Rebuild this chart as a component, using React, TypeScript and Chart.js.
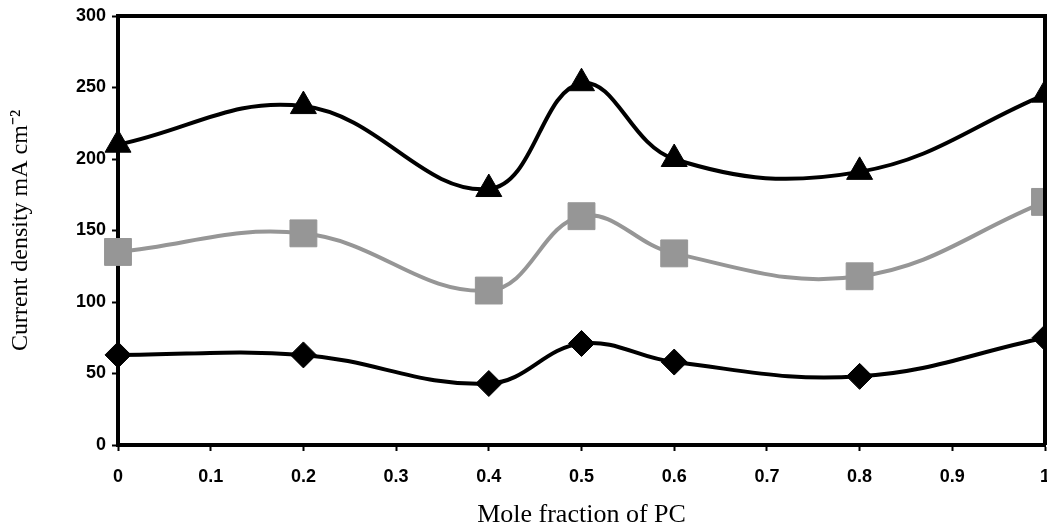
import React, { useEffect, useRef } from "react";
import { Chart, registerables } from "chart.js";

Chart.register(...registerables);

const moleFractions = [0, 0.2, 0.4, 0.5, 0.6, 0.8, 1.0];
const triangleSeries = [210, 237, 179, 253, 200, 191, 245];
const squareSeries = [135, 148, 108, 160, 134, 118, 170];
const diamondSeries = [63, 63, 43, 71, 58, 48, 75];
const xTitle = "Mole fraction of PC";
const yTitle = "Current density mA cm\u207B\u00B2";

const toPoints = (ys: number[]) => moleFractions.map((x, i) => ({ x, y: ys[i] }));

const framePlugin = {
  id: "frame",
  afterDatasetsDraw(chart: any) {
    const { ctx, chartArea } = chart;
    ctx.save();
    ctx.strokeStyle = "#000";
    ctx.lineWidth = 4;
    ctx.beginPath();
    ctx.moveTo(chartArea.left, chartArea.top);
    ctx.lineTo(chartArea.right, chartArea.top);
    ctx.lineTo(chartArea.right, chartArea.bottom);
    ctx.stroke();
    ctx.restore();
  },
};

export default function App() {
  const canvasRef = useRef<HTMLCanvasElement | null>(null);

  useEffect(() => {
    if (!canvasRef.current) return;
    const tickFont = { family: "'Liberation Sans', Arial, sans-serif", size: 18, weight: "bold" as const };
    const xTitleFont = { family: "'Liberation Serif', 'Times New Roman', serif", size: 26 };
    const yTitleFont = { family: "'Liberation Serif', 'Times New Roman', serif", size: 24 };
    const chart = new Chart(canvasRef.current, {
      type: "line",
      data: {
        datasets: [
          {
            data: toPoints(triangleSeries),
            borderColor: "#000",
            backgroundColor: "#000",
            borderWidth: 4,
            pointStyle: "triangle",
            pointRadius: 15,
            pointBorderWidth: 1,
            tension: 0.4,
            clip: false,
          },
          {
            data: toPoints(squareSeries),
            borderColor: "#969696",
            backgroundColor: "#969696",
            borderWidth: 4,
            pointStyle: "rect",
            pointRadius: 19,
            pointBorderWidth: 1,
            tension: 0.4,
            clip: false,
          },
          {
            data: toPoints(diamondSeries),
            borderColor: "#000",
            backgroundColor: "#000",
            borderWidth: 4,
            pointStyle: "rectRot",
            pointRadius: 13,
            pointBorderWidth: 1,
            tension: 0.4,
            clip: false,
          },
        ],
      },
      options: {
        responsive: false,
        animation: false,
        layout: { autoPadding: false, padding: { top: 16, right: 2, left: 0, bottom: 0 } },
        plugins: { legend: { display: false }, tooltip: { enabled: false } },
        scales: {
          x: {
            type: "linear",
            min: 0,
            max: 1,
            ticks: {
              stepSize: 0.1,
              color: "#000",
              font: tickFont,
              padding: 15,
              callback: (v: any) => String(Math.round(Number(v) * 10) / 10),
            },
            grid: { drawOnChartArea: false, drawTicks: true, tickLength: 6, tickColor: "#000", tickWidth: 2 },
            border: { display: true, color: "#000", width: 4 },
            title: { display: true, text: xTitle, color: "#000", font: xTitleFont, padding: { top: 0, bottom: 1.5 } },
            afterFit(axis: any) {
              axis.height = 87;
              axis.paddingLeft = 0;
              axis.paddingRight = 0;
            },
          },
          y: {
            min: 0,
            max: 300,
            ticks: { stepSize: 50, color: "#000", font: tickFont, padding: 6 },
            grid: { drawOnChartArea: false, drawTicks: true, tickLength: 6, tickColor: "#000", tickWidth: 2 },
            border: { display: true, color: "#000", width: 4 },
            title: { display: true, text: yTitle, color: "#000", font: yTitleFont, padding: { top: 6, bottom: 0 } },
            afterFit(axis: any) {
              axis.width = 118;
              axis.paddingTop = 0;
              axis.paddingBottom = 0;
            },
          },
        },
      },
      plugins: [framePlugin],
    });
    return () => chart.destroy();
  }, []);

  return (
    <div style={{ position: "fixed", left: 0, top: 0, width: 1047, height: 532, background: "#fff" }}>
      <canvas ref={canvasRef} width={1047} height={532} />
    </div>
  );
}
